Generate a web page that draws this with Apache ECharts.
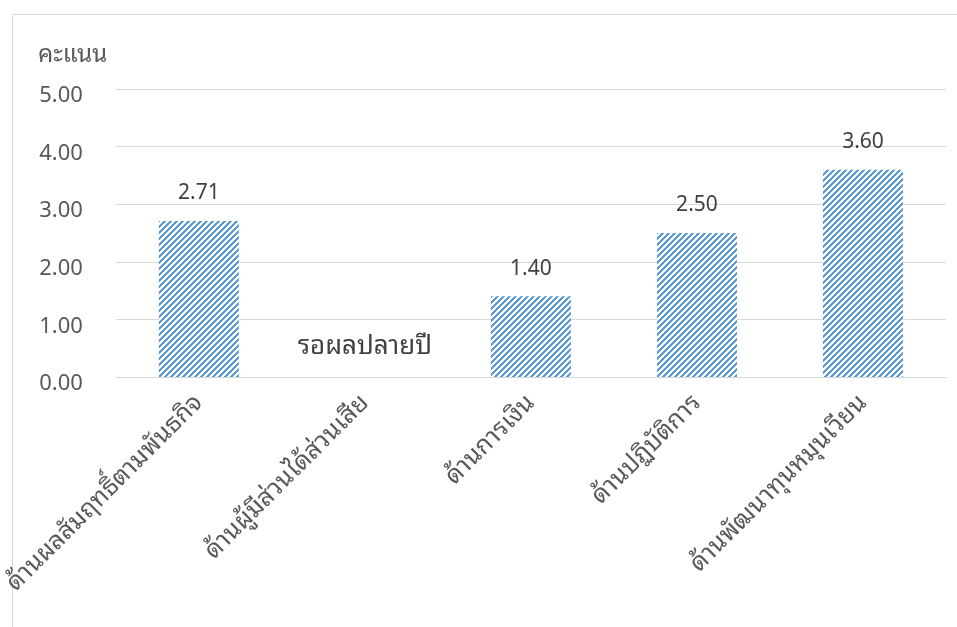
<!DOCTYPE html>
<html>
<head>
<meta charset="utf-8">
<script src="https://cdn.jsdelivr.net/npm/echarts@6/dist/echarts.min.js"></script>
<style>
html,body{margin:0;padding:0;background:#fff;}
#chart{width:957px;height:627px;}
</style>
</head>
<body>
<div id="chart"></div>
<script>
const categories = ['ด้านผลสัมฤทธิ์ตามพันธกิจ', 'ด้านผู้มีส่วนได้ส่วนเสีย', 'ด้านการเงิน', 'ด้านปฏิบัติการ', 'ด้านพัฒนาทุนหมุนเวียน'];
const scores = [2.71, null, 1.40, 2.50, 3.60];
const pendingCategory = 'ด้านผู้มีส่วนได้ส่วนเสีย';
const pendingText = 'รอผลปลายปี';
const pendingValue = 0.52;
const axisName = 'คะแนน';

const FONT = "'Leelawadee UI','Leelawadee',Tahoma,'Noto Sans Thai Looped','Loma','Garuda','Norasi','Tlwg Typo','Noto Sans Thai','Noto Sans','DejaVu Sans',sans-serif";

function makePattern() {
  const n = 6;
  const c = document.createElement('canvas');
  c.width = n; c.height = n;
  const ctx = c.getContext('2d');
  const img = ctx.createImageData(n, n);
  for (let y = 0; y < n; y++) {
    for (let x = 0; x < n; x++) {
      const i = (y * n + x) * 4;
      const blue = ((x + y) % n) < 3;
      if (blue) { img.data[i] = 0x5b; img.data[i+1] = 0x9b; img.data[i+2] = 0xd5; }
      else { img.data[i] = 255; img.data[i+1] = 255; img.data[i+2] = 255; }
      img.data[i+3] = 255;
    }
  }
  ctx.putImageData(img, 0, 0);
  return c;
}

const chart = echarts.init(document.getElementById('chart'), null, {renderer: 'canvas'});
chart.setOption({
  animation: false,
  textStyle: {fontFamily: FONT},
  title: {
    text: axisName, left: 33, top: 38,
    textStyle: {fontFamily: FONT, fontSize: 24, fontWeight: 'normal', color: '#595959'}
  },
  graphic: [{
    type: 'rect', left: 10, top: 12, silent: true,
    shape: {width: 960, height: 630},
    style: {fill: 'none', stroke: '#d9d9d9', lineWidth: 1}
  }],
  grid: {left: 115, right: 11, top: 89, bottom: 250, containLabel: false},
  xAxis: {
    type: 'category', data: categories,
    axisLine: {show: true, lineStyle: {color: '#d9d9d9', width: 1}},
    axisTick: {show: false},
    axisLabel: {rotate: 45, margin: 22, interval: 0, fontSize: 25, color: '#595959', fontFamily: FONT}
  },
  yAxis: {
    type: 'value', min: 0, max: 5, interval: 1,
    axisLine: {show: false}, axisTick: {show: false},
    splitLine: {lineStyle: {color: '#d9d9d9', width: 1}},
    axisLabel: {
      formatter: v => v.toFixed(2), fontSize: 22, color: '#595959', margin: 33,
      align: 'right', verticalAlign: 'top', lineHeight: 14, fontFamily: FONT
    }
  },
  series: [{
    type: 'bar', data: scores, barWidth: 80,
    itemStyle: {color: {image: makePattern(), repeat: 'repeat'}},
    label: {
      show: true, position: 'top', distance: 17,
      formatter: p => (p.value == null ? '' : Number(p.value).toFixed(2)),
      fontSize: 21, color: '#404040', fontFamily: FONT
    },
    markPoint: {
      symbol: 'circle', symbolSize: 0, silent: true,
      label: {show: true, position: 'inside', formatter: pendingText, fontSize: 26, color: '#404040', fontFamily: FONT},
      data: [{coord: [pendingCategory, pendingValue]}]
    }
  }]
});
</script>
</body>
</html>
